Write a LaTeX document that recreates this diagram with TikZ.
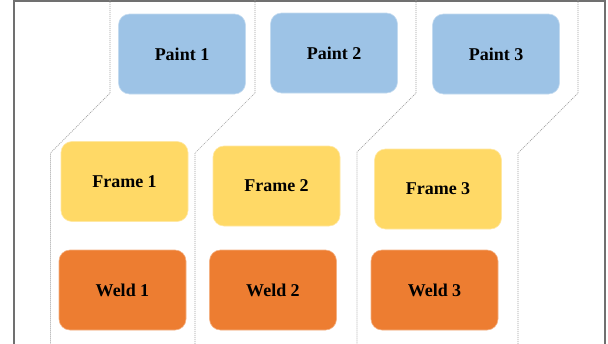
\documentclass[tikz,border=0pt]{standalone}
\usepackage{fontspec}
\setmainfont{Liberation Serif}
\definecolor{paintblue}{HTML}{9DC3E6}
\definecolor{frameyellow}{HTML}{FFD966}
\definecolor{weldorange}{HTML}{ED7D31}
\definecolor{framegray}{HTML}{707070}
\definecolor{lanegray}{HTML}{A0A0A0}
\tikzset{
  box/.style={rectangle, rounded corners=11pt, minimum width=127pt, minimum height=80pt,
    inner sep=0pt, font=\fontsize{18}{21}\selectfont\bfseries, text=black, line width=0.6pt},
  paintbox/.style={box, fill=paintblue, draw=paintblue!60!white},
  framebox/.style={box, fill=frameyellow, draw=frameyellow!60!white},
  weldbox/.style={box, fill=weldorange, draw=weldorange!60!white},
  lane/.style={draw=lanegray, line width=0.7pt, dash pattern=on 1pt off 1pt},
  outer/.style={draw=framegray, line width=2pt}
}
\begin{document}
\begin{tikzpicture}[x=1pt, y=-1pt]
\useasboundingbox (0,0) rectangle (608,343);
\clip (0,0) rectangle (608,343);
\fill[white] (0,0) rectangle (608,343);
% outer frame
\draw[outer] (13.5,350) -- (13.5,0.6) -- (604.5,0.6) -- (604.5,350);
% lanes
\draw[lane] (110,0) -- (110,93) -- (50.5,153) -- (50.5,350);
\draw[lane] (255,0) -- (255,93) -- (195,153) -- (195,350);
\draw[lane] (416,0) -- (416,93) -- (357,152) -- (357,350);
\draw[lane] (578,0) -- (578,93) -- (518,153) -- (518,350);
% boxes
\node[paintbox] (p1) at (182,54) {Paint 1};
\node[paintbox] (p2) at (334,53) {Paint 2};
\node[paintbox] (p3) at (496,54) {Paint 3};
\node[framebox] (f1) at (124.5,181.5) {Frame 1};
\node[framebox] (f2) at (276.5,186) {Frame 2};
\node[framebox] (f3) at (438,189) {Frame 3};
\node[weldbox] (w1) at (122.5,290) {Weld 1};
\node[weldbox] (w2) at (273,290) {Weld 2};
\node[weldbox] (w3) at (434.5,290) {Weld 3};
\end{tikzpicture}
\end{document}
